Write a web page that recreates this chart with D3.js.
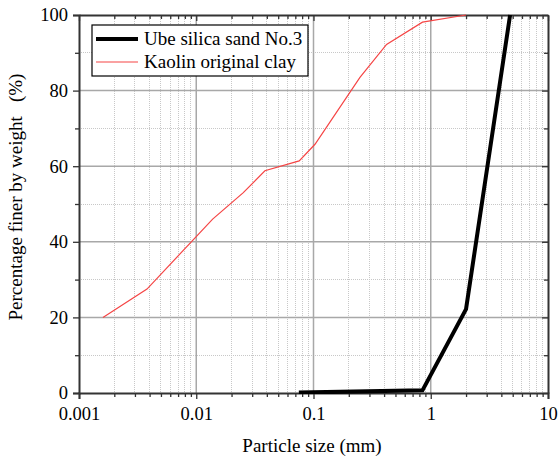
<!DOCTYPE html>
<html><head><meta charset="utf-8">
<script src="https://cdn.jsdelivr.net/npm/d3@7"></script>
<style>body{margin:0;background:#fff}svg{display:block}svg text{font-family:"Liberation Serif","DejaVu Serif","Times New Roman",serif !important;fill:#000}</style>
</head><body>
<script>
const sandX = [0.075, 0.85, 2.0, 4.75];
const sandY = [0.1, 0.7, 22.2, 100];
const kaolinX = [0.0016, 0.0038, 0.0138, 0.0252, 0.0385, 0.0755, 0.103, 0.249, 0.42, 0.85, 2.0];
const kaolinY = [20, 27.5, 46.0, 53.0, 58.8, 61.4, 65.8, 83.5, 92.2, 98.1, 100];
const xTicks = [0.001, 0.01, 0.1, 1, 10];
const xTickLabels = ["0.001", "0.01", "0.1", "1", "10"];
const yTicks = [0, 20, 40, 60, 80, 100];
const seriesNames = ["Ube silica sand No.3", "Kaolin original clay"];

const FONT = "Liberation Serif, DejaVu Serif, serif";
const W = 558, H = 458;
const L = 79, R = 548, T = 15, B = 393;
const svg = d3.select("body").append("svg").attr("width", W).attr("height", H).attr("font-family", FONT);
const x = d3.scaleLog().domain([0.001, 10]).range([L, R]);
const y = d3.scaleLinear().domain([0, 100]).range([B, T]);

const minorX = [];
for (let e = -3; e < 1; e++) for (let k = 2; k <= 9; k++) minorX.push(k * Math.pow(10, e));
const minorY = [10, 30, 50, 70, 90];

const g = svg.append("g");
g.selectAll(".mgx").data(minorX).join("line").attr("x1", d => x(d)).attr("x2", d => x(d)).attr("y1", T).attr("y2", B)
  .attr("stroke", "#c8c8c8").attr("stroke-width", 1).attr("stroke-dasharray", "1,1").attr("shape-rendering", "crispEdges");
g.selectAll(".mgy").data(minorY).join("line").attr("y1", d => y(d)).attr("y2", d => y(d)).attr("x1", L).attr("x2", R)
  .attr("stroke", "#c8c8c8").attr("stroke-width", 1).attr("stroke-dasharray", "1,1").attr("shape-rendering", "crispEdges");
g.selectAll(".gx").data(xTicks.slice(1, -1)).join("line").attr("x1", d => x(d)).attr("x2", d => x(d)).attr("y1", T).attr("y2", B)
  .attr("stroke", "#a8a8a8").attr("stroke-width", 1.5);
g.selectAll(".gy").data(yTicks.slice(1, -1)).join("line").attr("y1", d => y(d)).attr("y2", d => y(d)).attr("x1", L).attr("x2", R)
  .attr("stroke", "#a8a8a8").attr("stroke-width", 1.5);

const xb = d3.axisBottom(x).tickValues(xTicks).tickFormat((d, i) => xTickLabels[i]).tickSizeOuter(0).tickSize(6).tickPadding(4);
const xAxis = svg.append("g").attr("transform", `translate(0,${B})`).call(xb);
xAxis.selectAll("text").attr("font-size", 18.5).attr("dy", "0.9em");
svg.append("g").attr("transform", `translate(0,${B})`).call(d3.axisBottom(x).tickValues(minorX).tickFormat("").tickSize(4).tickSizeOuter(0)).select(".domain").remove();

const yl = d3.axisLeft(y).tickValues(yTicks).tickSizeOuter(0).tickSize(6).tickPadding(5);
const yAxis = svg.append("g").attr("transform", `translate(${L},0)`).call(yl);
yAxis.selectAll("text").attr("font-size", 18.5);
svg.append("g").attr("transform", `translate(${L},0)`).call(d3.axisLeft(y).tickValues(minorY).tickFormat("").tickSize(4).tickSizeOuter(0)).select(".domain").remove();

svg.append("g").attr("transform", `translate(0,${T})`).call(d3.axisBottom(x).tickValues(xTicks).tickFormat("").tickSize(6).tickSizeOuter(0));
svg.append("g").attr("transform", `translate(0,${T})`).call(d3.axisBottom(x).tickValues(minorX).tickFormat("").tickSize(4).tickSizeOuter(0)).select(".domain").remove();
svg.append("g").attr("transform", `translate(${R},0)`).call(d3.axisLeft(y).tickValues(yTicks).tickFormat("").tickSize(6).tickSizeOuter(0));
svg.append("g").attr("transform", `translate(${R},0)`).call(d3.axisLeft(y).tickValues(minorY).tickFormat("").tickSize(4).tickSizeOuter(0)).select(".domain").remove();
svg.selectAll("g").attr("font-family", FONT);
svg.selectAll(".domain").attr("stroke", "#333").attr("stroke-width", 2);
svg.selectAll(".tick line").attr("stroke", "#333").attr("stroke-width", 1.3);

const line = d3.line().x(d => x(d[0])).y(d => y(d[1]));
const kData = kaolinX.map((v, i) => [v, kaolinY[i]]);
const sData = sandX.map((v, i) => [v, sandY[i]]);
svg.append("clipPath").attr("id", "c").append("rect").attr("x", L).attr("y", T - 1).attr("width", R - L).attr("height", B - T + 2);
svg.append("path").datum(kData).attr("d", line).attr("fill", "none").attr("stroke", "#f54545").attr("stroke-width", 1.2);
svg.append("path").datum(sData).attr("d", line).attr("fill", "none").attr("stroke", "#000").attr("stroke-width", 4).attr("clip-path", "url(#c)");

const lg = svg.append("g");
lg.append("rect").attr("x", 92).attr("y", 25).attr("width", 216).attr("height", 51).attr("fill", "#fff").attr("stroke", "#000").attr("stroke-width", 1.2);
const styles = [{c: "#000", w: 4}, {c: "#f54545", w: 1.2}];
seriesNames.forEach((n, i) => {
  const yy = 39 + i * 23;
  lg.append("line").attr("x1", 96).attr("x2", 138).attr("y1", yy).attr("y2", yy).attr("stroke", styles[i].c).attr("stroke-width", styles[i].w);
  lg.append("text").attr("x", 144).attr("y", yy + 6).attr("font-size", 19).text(n);
});

svg.append("text").attr("x", 312).attr("y", 452).attr("text-anchor", "middle").attr("font-size", 19).text("Particle size (mm)");
svg.append("text").attr("transform", `translate(22,197) rotate(-90)`).attr("text-anchor", "middle").attr("font-size", 19)
  .attr("xml:space", "preserve").style("white-space", "pre").text("Percentage finer by weight   (%)");
</script>
</body></html>
